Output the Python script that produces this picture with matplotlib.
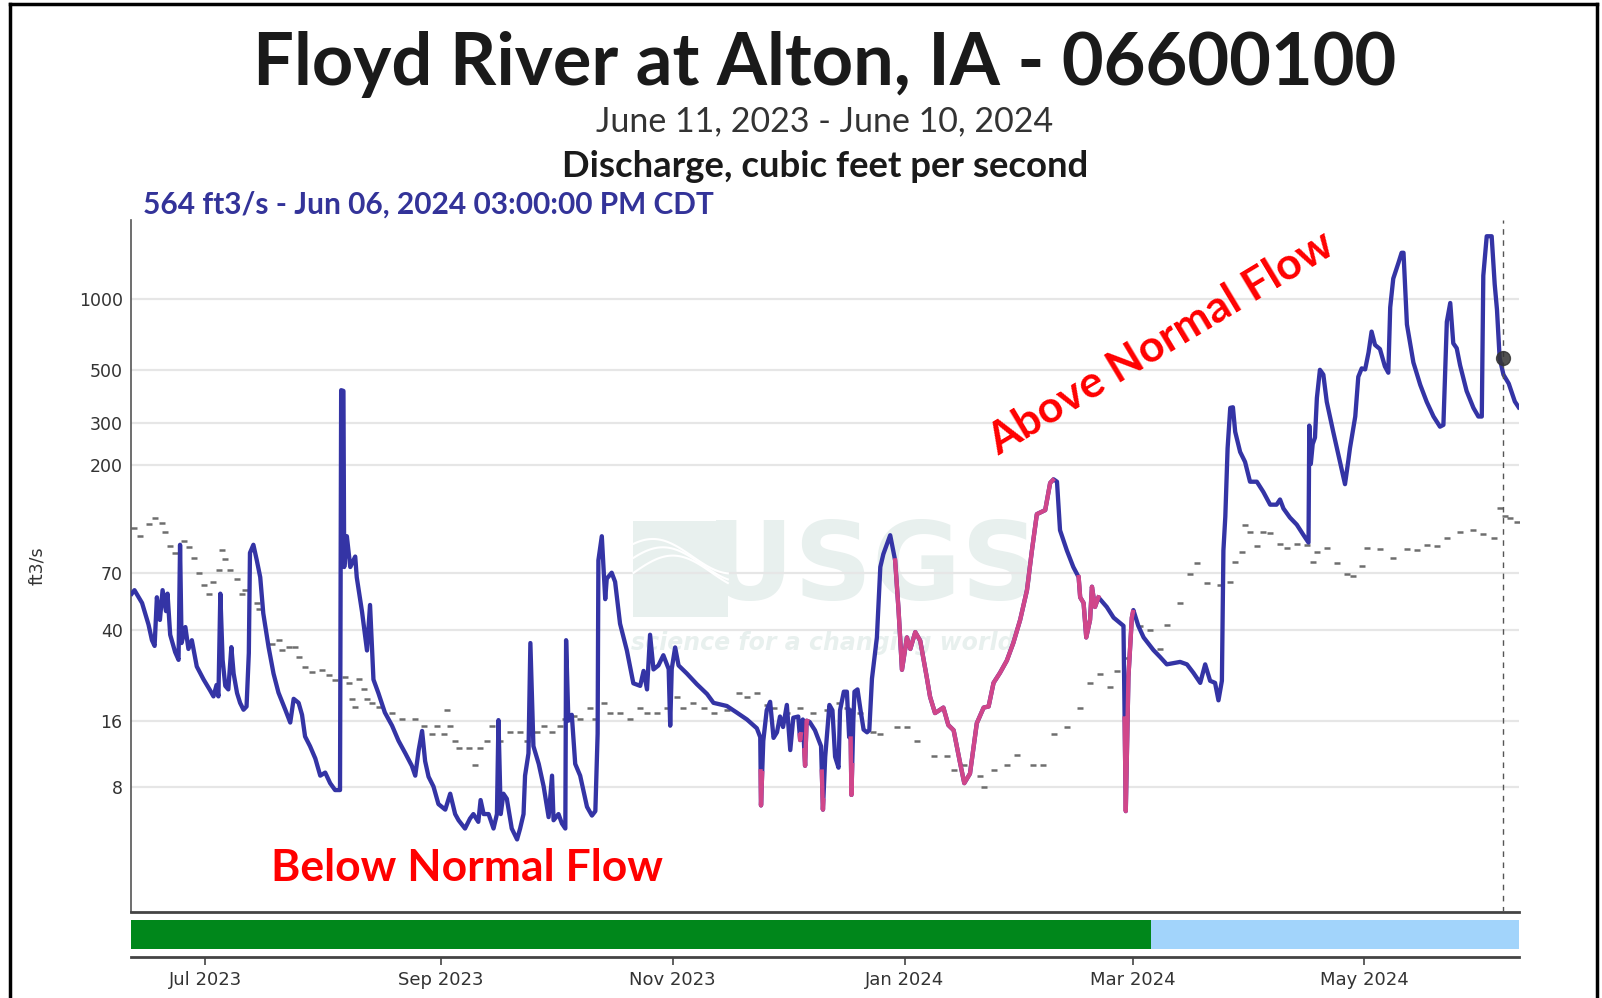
import numpy as np
import pandas as pd
import matplotlib
matplotlib.use('Agg')
import matplotlib.pyplot as plt
import matplotlib.dates as mdates
from matplotlib.lines import Line2D
from matplotlib.patches import Rectangle

start = pd.Timestamp('2023-06-11 10:00')

# discharge (ft3/s), time given as days after start
flow_day = [0.2, 0.9, 2.9, 4.6, 5.5, 6.2, 6.8, 7.6, 8.3, 9.2, 9.6, 10.3, 11.6, 12.5, 12.9, 13.3,
            14.3, 15.1, 16.0, 17.3, 19.1, 20.8, 21.7, 22.5, 23.0, 23.5, 24.1, 24.8, 25.6, 26.4,
            27.0, 27.9, 28.7, 29.6, 30.4, 31.0, 31.3, 32.2, 33.1, 34.0, 34.8, 36.2, 37.5, 38.8,
            40.6, 41.9, 42.8, 44.1, 45.0, 45.8, 47.1, 48.5, 49.8, 51.1, 52.4, 53.7, 55.0, 55.3,
            55.9, 56.1, 56.8, 57.7, 59.0, 59.4, 60.8, 62.1, 62.9, 63.8, 65.1, 66.8, 68.7, 70.4,
            72.2, 73.9, 74.8, 75.7, 76.6, 77.4, 78.3, 79.6, 80.9, 82.7, 84.0, 85.3, 86.2, 87.9,
            89.2, 90.1, 91.4, 92.0, 92.8, 94.1, 95.4, 96.3, 96.7, 97.3, 98.0, 98.9, 100.2, 101.6,
            102.4, 103.3, 103.7, 104.6, 105.1, 105.9, 107.3, 108.6, 109.9, 110.8, 111.2, 112.5,
            113.4, 114.3, 114.5, 115.1, 116.0, 116.9, 118.2, 120.0, 121.3, 122.2, 122.8, 123.0,
            123.9, 124.8, 125.2, 126.5, 127.4, 128.7, 130.5, 132.2, 134.0, 134.9, 135.8, 136.6,
            137.5, 138.8, 140.1, 141.5, 141.9, 142.3, 143.2, 144.1, 146.3, 148.9, 151.6, 153.3,
            156.8, 159.4, 162.1, 164.7, 165.6, 165.8, 166.4, 167.3, 168.2, 169.1, 170.0, 170.8,
            171.6, 172.6, 173.5, 174.3, 175.6, 176.1, 176.8, 177.4, 177.8, 178.6, 180.0, 181.6,
            182.1, 182.7, 183.8, 184.6, 185.3, 186.2, 186.6, 187.6, 188.4, 189.0, 189.3, 189.6,
            190.1, 190.4, 191.2, 192.0, 192.8, 193.7, 194.3, 195.0, 196.3, 197.2,
            198.0, 199.8, 201.1, 202.0, 202.9, 204.2, 205.1, 206.4, 207.7, 209.4, 210.3, 211.6,
            213.8, 215.1, 216.5, 218.2, 219.3, 220.8, 222.6, 224.4, 225.7, 227.0, 228.7, 230.5,
            232.2, 234.0, 235.8, 237.1, 238.4, 240.6, 241.9, 242.8, 243.7, 244.5, 246.3, 248.0,
            249.4, 249.8, 250.7, 251.4, 252.4, 252.9, 253.7, 254.6, 256.8, 258.6, 261.2, 261.8,
            262.5, 263.4, 263.8, 265.1, 266.5, 269.1, 270.8, 272.6, 276.1, 277.9, 279.6, 281.4,
            282.7, 284.0, 285.3, 286.2, 287.1, 287.5, 288.0, 288.6, 289.3, 290.0, 290.6, 291.9,
            293.2, 294.5, 296.3, 298.0, 299.8, 301.5, 302.4, 303.3, 305.0, 306.8, 308.6, 309.9,
            310.1, 310.5, 311.0, 311.6, 312.1, 312.9, 313.8, 314.7, 316.4, 318.2, 319.5, 320.4,
            320.8, 322.2, 323.0, 323.9, 324.8, 325.7, 326.5, 327.4, 328.7, 330.0, 330.9, 331.4,
            332.2, 333.6, 334.4, 334.9, 335.8, 337.5, 339.3, 341.0, 342.8, 344.5, 345.4, 346.3,
            347.2, 348.0, 348.9, 349.8, 351.5, 353.3, 354.6, 355.5, 355.9, 356.8, 358.1, 358.9,
            359.5, 360.2, 361.2, 362.6, 364.2, 365.2]
flow_cfs = [57, 59, 52, 42, 36, 34, 55, 44, 59, 48, 57, 38, 32, 29.6, 92, 35,
            41, 33, 36, 27.7, 24.3, 21.8, 20.5, 23, 20.5, 57, 29.6, 22.8, 22, 33.6,
            25.8, 21.2, 19.2, 17.9, 18.5, 31.7, 85, 92, 79, 67, 47, 33.6, 25.8, 21.3,
            17.9, 15.7, 20, 19.2, 17, 13.6, 12.3, 10.8, 9.0, 9.3, 8.3, 7.7, 7.7, 413,
            410, 74, 100, 74, 82, 67, 47.6, 32.5, 51, 24.3, 21.2, 17.4, 15.2, 13.0,
            11.4, 10.0, 9.0, 11.8, 14.4, 10.5, 8.9, 8.0, 6.6, 6.2, 7.4, 5.9, 5.5, 5.0,
            5.6, 5.9, 5.4, 6.9, 5.9, 5.9, 5.0, 5.9, 16.1, 5.9, 7.4, 7.0, 5.0, 4.4,
            5.0, 5.9, 9.0, 11.4, 35, 12.3, 10.2, 8.0, 5.7, 9.0, 5.5, 5.9,
            5.3, 5.0, 36, 16, 17, 10.2, 9.0, 6.4, 5.8, 6.1, 14, 79,
            100, 54, 66, 70, 64, 42.4, 32.5, 23.4, 22.8, 26.5, 22, 38,
            26.9, 28, 31, 27, 15.2, 27, 33.5, 28, 25.8, 23.2, 21, 19.2,
            18.6, 17.4, 16.2, 14.8, 13.5, 6.5, 13, 17.8, 19.4, 13.4, 14.2, 16.7,
            15, 18.8, 11.8, 16.5, 16.7, 13.1, 16.2, 10.0, 16, 15.8, 14.5, 12.3,
            6.2, 11, 18.8, 17.8, 11.0, 9.8, 17.8, 21.5, 21.5, 13.5, 17.8, 7.3,
            16, 21.5, 22, 17.8, 14.6, 14.2, 14.5, 24.5, 37, 74,
            84, 101, 79, 48.5, 26.8, 37, 33, 39, 35.8, 25, 20.4, 17.3,
            18.3, 15.3, 14.5, 10.3, 8.3, 9.2, 15.6, 18.3, 18.5, 23.5, 26, 29.4,
            35, 44, 59, 87, 124, 129, 168, 174, 170, 106, 87, 74,
            67, 55, 52, 37, 44, 61, 50, 55, 50, 45, 41.5, 6.1,
            25, 45, 48.5, 41.5, 37, 32.6, 30.5, 28.3, 29, 28.3, 26, 23.5,
            28.3, 24, 23.5, 19.7, 24, 87, 121, 235, 348, 350, 276, 227,
            206, 170, 170, 154, 136, 136, 143, 131, 120, 112, 101, 94,
            293, 202, 245, 261, 383, 503, 480, 369, 276, 206, 166, 210,
            235, 320, 470, 510, 505, 595, 728, 640, 615, 520, 489, 920,
            1215, 1420, 1560, 1560, 780, 540, 435, 369, 320, 290, 295, 800,
            960, 650, 620, 525, 410, 348, 320, 320, 1250, 1830, 1830, 1150,
            900, 564, 480, 440, 370, 350]

# stretches shown in pink (estimated / ice affected), days after start
est_periods = [(165.7, 166.1), (176.0, 176.3), (177.2, 177.9), (181.8, 182.2),
               (189.4, 189.8), (201.1, 242.6), (249.4, 254.6), (261.5, 263.7)]

# daily median (normal) flow
median_day = [0.7, 2.4, 4.6, 6.4, 8.1, 9.0, 10.3, 11.7, 13.9, 15.2, 16.5, 17.8, 19.1, 20.4,
              21.7, 23.1, 23.9, 24.8, 26.1, 27.9, 29.2, 30.1, 33.1, 33.6, 37.1, 38.9, 39.7,
              41.5, 43.2, 44.1, 45.9, 47.6, 50.3, 52.0, 53.8, 56.4, 57.3, 58.1, 59.0, 59.9,
              61.2, 62.1, 63.4, 65.2, 68.7, 71.3, 74.8, 77.0, 79.2, 80.5, 82.3, 83.1, 84.0,
              85.3, 86.2, 88.9, 90.6, 91.9, 93.7, 95.0, 97.2, 99.8, 102.4, 104.2, 106.8,
              108.6, 110.8, 113.0, 114.3, 116.5, 118.2, 120.8, 122.2, 124.4, 126.1, 128.7,
              131.4, 134.0, 135.8, 138.4, 141.0, 143.7, 145.4, 148.0, 150.7, 153.3, 156.8,
              159.9, 162.1, 164.7, 167.3, 169.1, 172.6, 176.1, 179.6, 183.1, 186.2, 188.4,
              191.9, 195.4, 197.2, 201.5, 204.2, 206.8, 211.2, 214.7, 216.5, 219.1, 223.5,
              224.4, 227.0, 230.5, 233.1, 237.5, 240.1, 242.8, 246.3, 249.8, 252.4, 255.1,
              257.7, 259.4, 262.1, 265.6, 268.2, 270.8, 272.6, 276.1, 278.7, 280.5, 283.1,
              286.6, 289.3, 290.6, 292.3, 293.2, 294.5, 296.3, 298.0, 299.8, 302.4, 304.2,
              306.8, 309.4, 311.2, 312.1, 314.7, 317.3, 320.0, 321.7, 323.9, 325.2, 328.7,
              332.2, 335.8, 338.4, 341.0, 343.6, 346.3, 349.8, 353.3, 355.9, 358.6, 360.3,
              361.6, 362.9, 364.7]
median_cfs = [108, 100, 113, 119, 114, 104, 91, 85, 95, 90, 81, 70, 62, 57,
              64, 72, 87, 80, 72, 66, 57, 59, 52, 49, 34.5, 36, 32.7,
              33.5, 33.5, 30.5, 27.5, 26.3, 26.8, 25.5, 24.3, 25, 23.5, 19.9, 18.4, 24.5,
              22, 20, 19.2, 18.4, 17.3, 16.2, 16.2, 15.2, 14, 15.2, 14, 17.9, 15.2,
              13.0, 12.0, 12.0, 10.1, 12, 13, 15.2, 13, 14.2, 14.2, 13, 14.2,
              15.2, 14.2, 15.2, 16.2, 16.8, 16.2, 18.3, 16.2, 19.2, 17.4, 17.4,
              16.2, 18.3, 17.4, 17.4, 18.3, 20.4, 18.3, 19.2, 18.3, 17.4, 17.9,
              21.3, 20.4, 21.3, 18.8, 18.3, 17.4, 18.3, 17.4, 17.9, 19.2, 18.3,
              17.4, 14.2, 14, 15, 15, 13, 11.1, 11.1, 9.6, 10.1, 9.0,
              8.0, 9.6, 10.1, 11.2, 10.1, 10.1, 14, 15, 18.3, 23.5, 25.8,
              22.5, 26.4, 30.3, 41.5, 40, 33, 42, 52, 68.8, 77, 63,
              62, 64, 78, 86, 112, 104, 91, 104, 103, 93, 89,
              93, 92, 78, 86, 89, 77, 68.8, 68, 75, 89, 88,
              81, 88, 87, 92, 91, 98, 104, 106, 102, 98, 132,
              122, 120, 115]

# bottom status bar: below normal until early March, above normal after
bar_edges = ['2023-06-11 00:00', '2024-03-05 18:00', '2024-06-11 00:00']
bar_colors = ['#00871B', '#A2D4FB']

ytick_vals = [8, 16, 40, 70, 200, 300, 500, 1000]
xtick_dates = ['2023-07-01', '2023-09-01', '2023-11-01', '2024-01-01', '2024-03-01', '2024-05-01']

latest_time = pd.Timestamp('2024-06-06 15:00')
latest_cfs = 564


def to_time(days):
    return start + pd.to_timedelta(np.asarray(days, dtype=float), unit='D')


def est_piece(d0, d1):
    days = np.array(flow_day)
    lv = np.log10(np.array(flow_cfs) + 1)
    inside = (days > d0) & (days < d1)
    sd = np.concatenate([[d0], days[inside], [d1]])
    sv = np.concatenate([[np.interp(d0, days, lv)], lv[inside], [np.interp(d1, days, lv)]])
    return sd, 10 ** sv - 1


fig = plt.figure(figsize=(16.02, 9.98), dpi=100)
ax = fig.add_axes([0.0818, 0.0862, 0.8664, 0.6934])

ax.set_yscale('function', functions=(lambda v: np.log10(np.asarray(v) + 1),
                                     lambda v: 10 ** np.asarray(v) - 1))
x0 = start
x1 = start + pd.Timedelta(days=365.3)

# faint USGS watermark
wm = '#E8F0EE'
ax.add_patch(Rectangle((0.362, 0.426), 0.068, 0.139, transform=ax.transAxes,
                       color=wm, zorder=0.5, lw=0))
wx = np.linspace(0.362, 0.430, 50)
for k in range(3):
    ax.plot(wx, 0.49 + 0.012 * k + 0.025 * np.sin((wx - 0.362) / 0.068 * np.pi * 1.2 + k * 0.4),
            transform=ax.transAxes, color='white', lw=1.5, zorder=0.6)
ax.text(0.534, 0.495, 'USGS', transform=ax.transAxes, ha='center', va='center',
        fontsize=78, fontweight='bold', color=wm, family='Liberation Sans Narrow', zorder=0.5)
ax.text(0.498, 0.388, 'science for a changing world', transform=ax.transAxes, ha='center',
        va='center', fontsize=17, style='italic', fontweight='bold', color=wm,
        family='Liberation Sans Narrow', zorder=0.5)

# normal (median) flow
ax.plot(to_time(median_day), median_cfs, ls='none', marker='_', ms=5, mew=1.8,
        color='#6E6E6E', zorder=2)

# measured flow, then estimated stretches in pink
ax.plot(to_time(flow_day), flow_cfs, color='#3434A5', lw=3.1, zorder=3)
for d0, d1 in est_periods:
    sd, sv = est_piece(d0, d1)
    ax.plot(to_time(sd), sv, color='#D0468A', lw=3.1, zorder=4)

ax.axvline(latest_time, color='#555555', lw=1, ls=(0, (4, 4)), zorder=5)
ax.plot([latest_time], [latest_cfs], 'o', ms=10, color='#333333', alpha=0.85, zorder=6)

ax.set_xlim(x0, x1)
ax.set_ylim(1.68, 2142)
ax.set_yticks(ytick_vals)
ax.set_yticklabels([str(v) for v in ytick_vals], family='Liberation Sans Narrow',
                   fontsize=12.5, color='#333333')
ax.minorticks_off()
ax.tick_params(axis='y', length=0, pad=6)
ax.set_xticks([])
ax.yaxis.grid(True, color='#E6E6E6', lw=1.6)
ax.set_axisbelow(True)
ax.set_ylabel('ft3/s', fontsize=12.5, color='#333333', family='Liberation Sans Narrow')
ax.yaxis.set_label_coords(-0.061, 0.5)
ax.spines['top'].set_visible(False)
ax.spines['right'].set_visible(False)
ax.spines['left'].set_color('#555555')
ax.spines['left'].set_linewidth(1.2)
ax.spines['bottom'].set_color('#444444')
ax.spines['bottom'].set_linewidth(2)

# status bar with the date axis below it
bx = fig.add_axes([0.0818, 0.0411, 0.8664, 0.0371])
edges = mdates.date2num(pd.to_datetime(bar_edges))
for i, c in enumerate(bar_colors):
    bx.barh(0.61, edges[i + 1] - edges[i], left=edges[i], height=0.78, color=c, lw=0)
bx.set_xlim(x0, x1)
bx.set_ylim(0, 1)
bx.set_yticks([])
bx.set_xticks(pd.to_datetime(xtick_dates))
bx.xaxis.set_major_formatter(mdates.DateFormatter('%b %Y'))
bx.tick_params(axis='x', length=6, width=1.2, color='#444444', labelsize=13,
               labelcolor='#333333', pad=4)
for lab in bx.get_xticklabels():
    lab.set_family('Liberation Sans Narrow')
for s in ['top', 'left', 'right']:
    bx.spines[s].set_visible(False)
bx.spines['bottom'].set_color('#444444')
bx.spines['bottom'].set_linewidth(2)

# titles
fig.text(0.515, 0.915, 'Floyd River at Alton, IA - 06600100', ha='center', va='baseline',
         fontsize=52, fontweight='bold', family='Lato', color='#1A1A1A')
fig.text(0.515, 0.868, 'June 11, 2023 - June 10, 2024', ha='center', va='baseline',
         fontsize=24.5, family='Lato', color='#333333')
fig.text(0.515, 0.823, 'Discharge, cubic feet per second', ha='center', va='baseline',
         fontsize=26.3, fontweight='bold', family='Lato', color='#1A1A1A')
fig.text(0.0893, 0.786, '564 ft3/s - Jun 06, 2024 03:00:00 PM CDT', ha='left', va='baseline',
         fontsize=21.5, fontweight='bold', family='Lato', color='#333399')

# annotations
fig.text(0.169, 0.117, 'Below Normal Flow', ha='left', va='baseline', fontsize=32,
         fontweight='bold', family='Lato', color='#FF0000')
fig.text(0.7247, 0.656, 'Above Normal Flow', ha='center', va='center', fontsize=32,
         fontweight='bold', family='Lato', color='#FF0000', rotation=31,
         rotation_mode='anchor')

# frame around the picture
for xs, ys in [([0.006, 0.006], [0, 0.996]), ([0.006, 0.997], [0.996, 0.996]),
               ([0.997, 0.997], [0, 0.996])]:
    fig.add_artist(Line2D(xs, ys, color='black', lw=2.5, transform=fig.transFigure))

plt.savefig('out.png', dpi=100)
